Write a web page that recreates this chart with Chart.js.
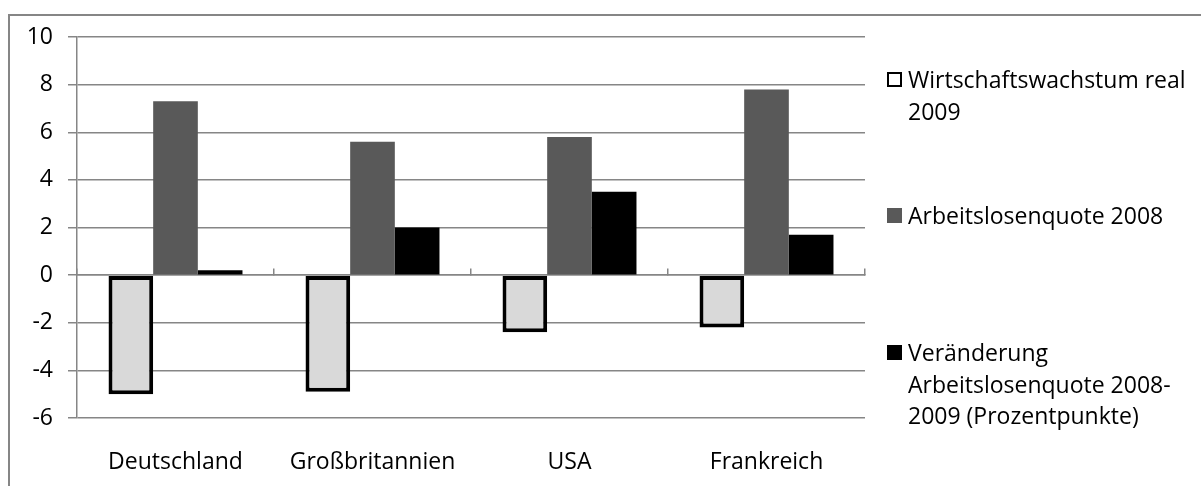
<!DOCTYPE html>
<html>
<head>
  <meta charset="utf-8">
  <title>Wirtschaftswachstum und Arbeitslosigkeit</title>
  <script src="https://cdn.jsdelivr.net/npm/chart.js"></script>
  <style>
    html, body { margin: 0; padding: 0; background: #fff; overflow: hidden; }
    #wrap { position: relative; width: 1201px; height: 486px; }
    #frame { position: absolute; left: 8px; top: 14px; width: 1300px; height: 600px;
             border-left: 2px solid #868686; border-top: 2px solid #868686; }
    canvas { position: absolute; left: 0; top: 0; }
    .entry { position: absolute; left: 887px; font-family: "Open Sans", sans-serif; font-size: 23px;
             line-height: 31.5px; color: #000; white-space: nowrap; }
    .box { position: absolute; left: 0; width: 15px; height: 15px; box-sizing: border-box; }
    .txt { position: absolute; left: 21px; top: 0; }
  </style>
</head>
<body>
<div id="wrap">
  <div id="frame"></div>
  <canvas id="myChart" width="1201" height="486"></canvas>
  <div id="legend"></div>
</div>

<script>
// data
const countries = ['Deutschland', 'Großbritannien', 'USA', 'Frankreich'];
const wachstum2009 = [-5.0, -4.9, -2.4, -2.2];
const alq2008 = [7.3, 5.6, 5.8, 7.8];
const alqChange = [0.2, 2.0, 3.5, 1.7];

const seriesNames = [
  'Wirtschaftswachstum real 2009',
  'Arbeitslosenquote 2008',
  'Veränderung Arbeitslosenquote 2008-2009 (Prozentpunkte)'
];
// how the legend wraps in the original
const legendLines = [
  ['Wirtschaftswachstum real', '2009'],
  ['Arbeitslosenquote 2008'],
  ['Veränderung', 'Arbeitslosenquote 2008-', '2009 (Prozentpunkte)']
];
const yTicks = [-6, -4, -2, 0, 2, 4, 6, 8, 10];

const gridColor = '#868686';
const font = { family: '"Open Sans", sans-serif', size: 23 };

const ctx = document.getElementById('myChart');

const chart = new Chart(ctx, {
  type: 'bar',
  data: {
    labels: countries,
    datasets: [{
      label: seriesNames[0],
      data: wachstum2009,
      backgroundColor: '#d9d9d9',
      borderColor: '#000',
      borderWidth: 4,
      borderSkipped: false
    }, {
      label: seriesNames[1],
      data: alq2008,
      backgroundColor: '#595959',
      borderWidth: 0
    }, {
      label: seriesNames[2],
      data: alqChange,
      backgroundColor: '#000',
      borderWidth: 0
    }]
  },
  options: {
    responsive: false,
    animation: false,
    layout: { padding: { left: 0, top: 37, right: 336, bottom: 0 } },
    plugins: { legend: { display: false }, tooltip: { enabled: false } },
    datasets: { bar: { categoryPercentage: 0.68, barPercentage: 1 } },
    scales: {
      x: {
        position: 'bottom',
        grid: { display: false },
        border: { display: false },
        ticks: { font: font, color: '#000', padding: 23, maxRotation: 0 },
        afterFit: s => { s.height = 68; }
      },
      x2: {
        type: 'category',
        position: { y: 0 },
        grid: { display: true, drawOnChartArea: false, offset: true, tickLength: -7,
                color: gridColor, lineWidth: 1.5 },
        border: { display: true, color: gridColor, width: 1.5 },
        ticks: { display: false }
      },
      y: {
        min: -6,
        max: 10,
        afterBuildTicks: s => { s.ticks = yTicks.map(v => ({ value: v })); },
        grid: { color: gridColor, lineWidth: 1.5, tickLength: 9 },
        border: { display: true, color: gridColor, width: 1.5 },
        ticks: { font: font, color: '#000', padding: 15 },
        afterFit: s => { s.width = 77; }
      }
    }
  }
});

// legend on the right
const legendCenters = [80, 216, 353];
const legend = document.getElementById('legend');
chart.data.datasets.forEach((ds, i) => {
  const e = document.createElement('div');
  e.className = 'entry';
  e.style.top = (legendCenters[i] - 15.75) + 'px';
  const b = document.createElement('div');
  b.className = 'box';
  b.style.top = '8px';
  b.style.background = i === 0 ? '#fff' : ds.backgroundColor;
  if (i === 0) b.style.border = '2px solid #000';
  const t = document.createElement('div');
  t.className = 'txt';
  t.innerHTML = legendLines[i].join('<br>');
  e.appendChild(b);
  e.appendChild(t);
  legend.appendChild(e);
});
</script>
</body>
</html>
